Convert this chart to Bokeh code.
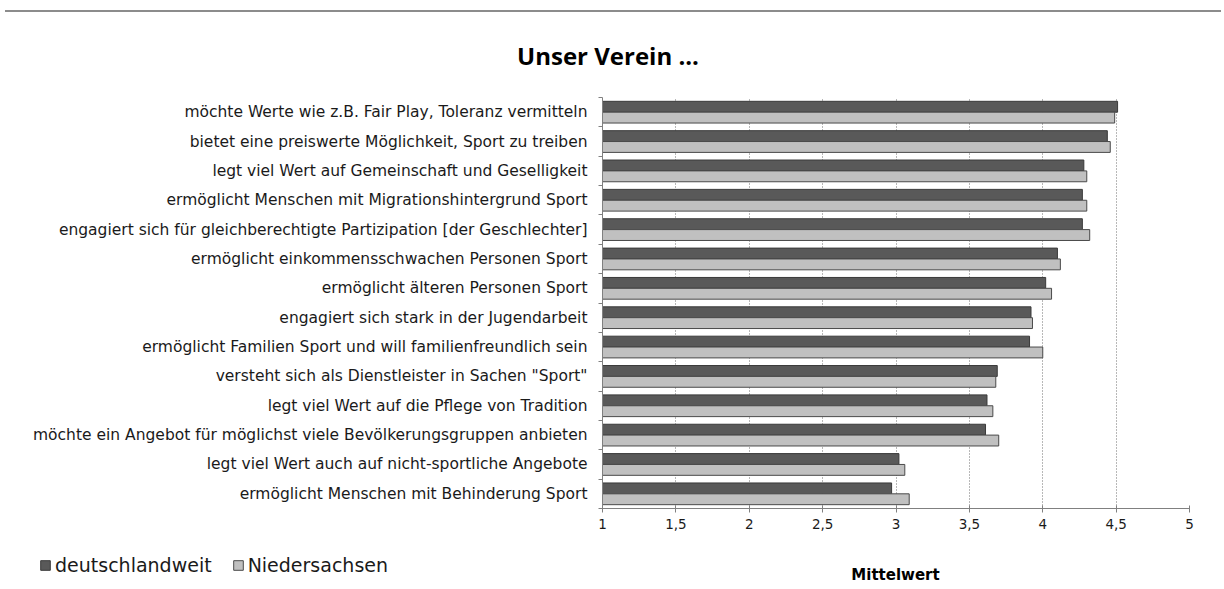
from bokeh.plotting import figure
from bokeh.models import Range1d, FixedTicker, Legend, LegendItem, Div, CustomJSTickFormatter, Label
from bokeh.layouts import column
from bokeh.embed import file_html
from bokeh.resources import INLINE

categories = [
    "möchte Werte wie z.B. Fair Play, Toleranz vermitteln",
    "bietet eine preiswerte Möglichkeit, Sport zu treiben",
    "legt viel Wert auf Gemeinschaft und Geselligkeit",
    "ermöglicht Menschen mit Migrationshintergrund Sport",
    "engagiert sich für gleichberechtigte Partizipation [der Geschlechter]",
    "ermöglicht einkommensschwachen Personen Sport",
    "ermöglicht älteren Personen Sport",
    "engagiert sich stark in der Jugendarbeit",
    "ermöglicht Familien Sport und will familienfreundlich sein",
    "versteht sich als Dienstleister in Sachen \"Sport\"",
    "legt viel Wert auf die Pflege von Tradition",
    "möchte ein Angebot für möglichst viele Bevölkerungsgruppen anbieten",
    "legt viel Wert auch auf nicht-sportliche Angebote",
    "ermöglicht Menschen mit Behinderung Sport",
]
deutschlandweit = [4.51, 4.44, 4.28, 4.27, 4.27, 4.10, 4.02, 3.92, 3.91, 3.69, 3.62, 3.61, 3.02, 2.97]
niedersachsen = [4.49, 4.46, 4.30, 4.30, 4.32, 4.12, 4.06, 3.93, 4.00, 3.68, 3.66, 3.70, 3.06, 3.09]
x_ticks = [1, 1.5, 2, 2.5, 3, 3.5, 4, 4.5, 5]
series_names = ["deutschlandweit", "Niedersachsen"]
title_text = "Unser Verein ..."
x_title = "Mittelwert"

DARK = "#595959"
LIGHT = "#c0c0c0"
EDGE_D = "#3a3a3a"
EDGE_L = "#4a4a4a"
FONT = "DejaVu Sans"

n = len(categories)
ypos = [n - 1 - i for i in range(n)]
y_dark = [y + 0.185 for y in ypos]
y_light = [y - 0.185 for y in ypos]


def no_frame_align(fig):
    if "frame_align" in fig.properties():
        fig.frame_align = False


p = figure(width=1216, height=460, output_backend="svg", toolbar_location=None,
           x_range=Range1d(1, 5), y_range=Range1d(-0.5, n - 0.5),
           min_border_left=602, min_border_right=27, min_border_top=17, min_border_bottom=32)
p.outline_line_color = None
p.background_fill_color = "white"
no_frame_align(p)

p.hbar(y=y_dark, right=deutschlandweit, left=1, height=0.37,
       fill_color=DARK, line_color=EDGE_D, line_width=1)
p.hbar(y=y_light, right=niedersachsen, left=1, height=0.37,
       fill_color=LIGHT, line_color=EDGE_L, line_width=1)

# x axis
p.xaxis.ticker = FixedTicker(ticks=x_ticks)
p.xaxis.formatter = CustomJSTickFormatter(code="return tick.toString().replace('.', ',');")
p.xaxis.axis_line_color = "#808080"
p.xaxis.major_tick_line_color = "#808080"
p.xaxis.major_tick_in = 3
p.xaxis.major_tick_out = 4
p.xaxis.minor_tick_line_color = None
p.xaxis.major_label_text_font = FONT
p.xaxis.major_label_text_font_size = "13.5px"
p.xaxis.major_label_text_color = "#1a1a1a"
p.xaxis.major_label_standoff = 6

# y axis
p.yaxis.ticker = FixedTicker(ticks=ypos, minor_ticks=[k + 0.5 for k in range(-1, n)])
p.yaxis.major_label_overrides = {y: c for y, c in zip(ypos, categories)}
p.yaxis.axis_line_color = "#808080"
p.yaxis.major_tick_line_color = None
p.yaxis.major_tick_out = 0
p.yaxis.major_tick_in = 0
p.yaxis.minor_tick_line_color = "#808080"
p.yaxis.minor_tick_out = 4
p.yaxis.minor_tick_in = 0
p.yaxis.major_label_text_font = FONT
p.yaxis.major_label_text_font_size = "15.5px"
p.yaxis.major_label_text_color = "#1a1a1a"
p.yaxis.major_label_standoff = 11

# grid
p.ygrid.grid_line_color = None
p.xgrid.ticker = FixedTicker(ticks=x_ticks[1:])
p.xgrid.grid_line_color = "#707070"
p.xgrid.grid_line_dash = "1 2"
p.xgrid.grid_line_width = 1

# bottom strip: legend + x axis title
b = figure(width=1216, height=45, output_backend="svg", toolbar_location=None,
           x_range=Range1d(0, 1), y_range=Range1d(-1, 1),
           x_axis_type=None, y_axis_type=None,
           min_border_left=0, min_border_right=0, min_border_top=0, min_border_bottom=0)
b.outline_line_color = None
b.grid.grid_line_color = None
no_frame_align(b)
# legend swatches: zero-width bars at the first values, outside the visible strip range
l1 = b.hbar(y=[0], left=deutschlandweit[:1], right=deutschlandweit[:1], height=0.5,
            fill_color=DARK, line_color=EDGE_D)
l2 = b.hbar(y=[0], left=niedersachsen[:1], right=niedersachsen[:1], height=0.5,
            fill_color=LIGHT, line_color=EDGE_L)
legend = Legend(items=[LegendItem(label=series_names[0], renderers=[l1]),
                       LegendItem(label=series_names[1], renderers=[l2])],
                location=(39, 9), orientation="horizontal")
legend.glyph_width = 12
legend.glyph_height = 12
legend.label_height = 20
legend.label_standoff = 4
legend.spacing = 20
legend.padding = 0
legend.margin = 0
legend.background_fill_alpha = 0
legend.border_line_color = None
legend.label_text_font = FONT
legend.label_text_font_size = "19px"
legend.label_text_color = "#1a1a1a"
b.add_layout(legend, "center")
b.add_layout(Label(x=895, y=11, x_units="screen", y_units="screen", text=x_title,
                   text_align="center", text_baseline="middle",
                   text_font=FONT, text_font_style="bold", text_font_size="15px",
                   text_color="#000000"))

header = Div(
    text=('<div style="width:1216px;height:2px;background:#8c8c8c;margin-top:5px;"></div>'
          '<div style="width:1206px;text-align:center;font-family:\'Open Sans\';font-weight:bold;'
          'font-size:24px;line-height:27px;color:#000;margin-top:30px;">' + title_text + '</div>'),
    width=1216, height=70)

layout = column(header, p, b, spacing=0)
open("out.html", "w").write(file_html(layout, INLINE))
